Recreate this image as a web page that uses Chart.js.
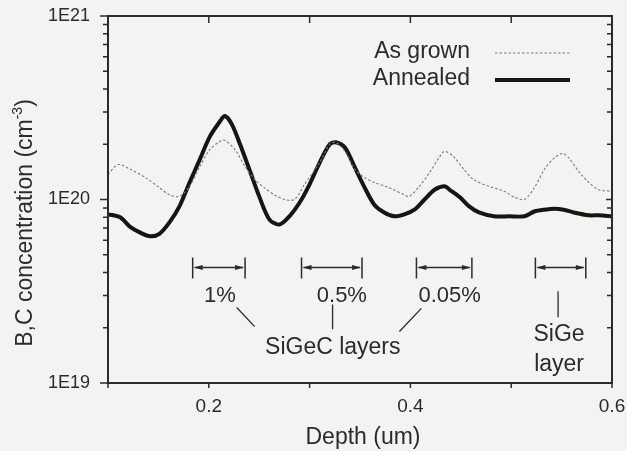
<!DOCTYPE html>
<html>
<head>
<meta charset="utf-8">
<title>B,C concentration vs depth</title>
<script src="https://cdn.jsdelivr.net/npm/chart.js@4.4.0/dist/chart.umd.min.js"></script>
<style>
  html, body { margin: 0; padding: 0; background: #f3f3f1; }
  canvas { display: block; }
</style>
</head>
<body>
<canvas id="chart" width="627" height="451"></canvas>
<script>
// ***** data *****
const grownDepth = [0.100, 0.110, 0.122, 0.137, 0.151, 0.161, 0.171, 0.181, 0.191, 0.201,
  0.211, 0.216, 0.226, 0.236, 0.246, 0.255, 0.265, 0.275, 0.285, 0.295,
  0.310, 0.320, 0.326, 0.335, 0.345, 0.354, 0.364, 0.379, 0.394, 0.399,
  0.409, 0.419, 0.429, 0.434, 0.443, 0.453, 0.463, 0.478, 0.493, 0.503,
  0.513, 0.523, 0.533, 0.543, 0.551, 0.557, 0.567, 0.577, 0.587, 0.600]
const grownConc = [1.37e20, 1.55e20, 1.46e20, 1.32e20, 1.16e20, 1.06e20, 1.04e20, 1.18e20, 1.51e20, 1.87e20,
  2.07e20, 2.10e20, 1.87e20, 1.51e20, 1.28e20, 1.16e20, 1.06e20, 1.00e20, 1.00e20, 1.21e20,
  1.59e20, 2.00e20, 2.05e20, 1.83e20, 1.46e20, 1.32e20, 1.24e20, 1.16e20, 1.06e20, 1.04e20,
  1.18e20, 1.40e20, 1.71e20, 1.83e20, 1.71e20, 1.46e20, 1.28e20, 1.18e20, 1.11e20, 1.03e20,
  1.00e20, 1.16e20, 1.46e20, 1.69e20, 1.78e20, 1.69e20, 1.42e20, 1.24e20, 1.13e20, 1.11e20]

const annealedDepth = [0.100, 0.112, 0.122, 0.132, 0.142, 0.151, 0.161, 0.171, 0.181, 0.191,
  0.201, 0.211, 0.216, 0.223, 0.231, 0.241, 0.250, 0.260, 0.270, 0.280,
  0.290, 0.300, 0.310, 0.320, 0.326, 0.335, 0.345, 0.354, 0.364, 0.374,
  0.384, 0.394, 0.404, 0.414, 0.424, 0.434, 0.439, 0.449, 0.458, 0.468,
  0.483, 0.498, 0.513, 0.523, 0.533, 0.543, 0.552, 0.562, 0.577, 0.587, 0.600]
const annealedConc = [8.3e19, 8.0e19, 7.1e19, 6.6e19, 6.3e19, 6.5e19, 7.5e19, 9.2e19, 1.24e20, 1.65e20,
  2.20e20, 2.66e20, 2.85e20, 2.56e20, 2.00e20, 1.42e20, 1.04e20, 7.8e19, 7.3e19, 8.1e19,
  9.6e19, 1.21e20, 1.59e20, 2.00e20, 2.05e20, 1.92e20, 1.49e20, 1.18e20, 9.4e19, 8.5e19,
  8.1e19, 8.3e19, 8.8e19, 1.00e20, 1.13e20, 1.18e20, 1.13e20, 1.03e20, 9.2e19, 8.5e19,
  8.1e19, 8.1e19, 8.1e19, 8.6e19, 8.8e19, 8.9e19, 8.8e19, 8.5e19, 8.2e19, 8.2e19, 8.1e19]

const seriesNames = ["As grown", "Annealed"]
const xTickValues = [0.1, 0.2, 0.3, 0.4, 0.5, 0.6]
const xTickLabels = ["", "0.2", "", "0.4", "", "0.6"]
const yTickValues = [1e19, 1e20, 1e21]
const yTickLabels = ["1E19", "1E20", "1E21"]
const yMinorSteps = [2, 3, 4, 5, 6, 7, 8, 9]

// layer markers (depth ranges) and their captions
const layerRanges = [[0.184, 0.236], [0.292, 0.352], [0.406, 0.461], [0.524, 0.574]]
const layerNames = ["1%", "0.5%", "0.05%", ""]

// ***** look *****
const FONT = "'Liberation Sans', Arial, Helvetica, sans-serif"
const INK = "#2b2b2b"
const BG = "#f3f3f1"

// where the notes go, in data units
const notes = {
  bracketY: 4.26e19,
  captionY: 3.0e19,
  captionX: [0.211, 0.332, 0.439],
  groupLabel: { text: "SiGeC layers", x: 0.323, y: 1.56e19 },
  sigeLabel: { lines: ["SiGe", "layer"], x: 0.5475, y: [1.84e19, 1.26e19] },
  leaders: [
    [0.2277, 2.58e19, 0.2455, 2.03e19],
    [0.3228, 2.68e19, 0.3228, 1.96e19],
    [0.4109, 2.55e19, 0.3891, 1.91e19],
    [0.5465, 3.16e19, 0.5465, 2.28e19]
  ]
}

const toPoints = (xs, ys) => xs.map((v, i) => ({ x: v, y: ys[i] }))

const decor = {
  id: "decor",
  beforeDraw(chart) {
    const ctx = chart.ctx
    ctx.save()
    ctx.fillStyle = BG
    ctx.fillRect(0, 0, chart.width, chart.height)
    ctx.restore()
  },
  afterDraw(chart) {
    const { ctx, chartArea: a, scales } = chart
    const x = scales.x, y = scales.y
    ctx.save()
    ctx.strokeStyle = INK
    ctx.fillStyle = INK

    // frame
    ctx.lineWidth = 2
    ctx.strokeRect(a.left, a.top, a.right - a.left, a.bottom - a.top)

    // tick marks
    ctx.lineWidth = 1.5
    ctx.beginPath()
    xTickValues.forEach(v => {
      const px = x.getPixelForValue(v)
      ctx.moveTo(px, a.bottom); ctx.lineTo(px, a.bottom + 5)
      ctx.moveTo(px, a.top); ctx.lineTo(px, a.top + 7)
    })
    yTickValues.forEach(v => {
      const py = y.getPixelForValue(v)
      ctx.moveTo(a.left - 8, py); ctx.lineTo(a.left, py)
      ctx.moveTo(a.right - 6, py); ctx.lineTo(a.right, py)
    })
    yTickValues.slice(0, -1).forEach(dec => {
      yMinorSteps.forEach(m => {
        const py = y.getPixelForValue(dec * m)
        ctx.moveTo(a.left - 5, py); ctx.lineTo(a.left + 1, py)
        ctx.moveTo(a.right - 5, py); ctx.lineTo(a.right, py)
      })
    })
    ctx.stroke()

    // y title with superscript
    ctx.save()
    ctx.translate(32, 223)
    ctx.rotate(-Math.PI / 2)
    ctx.textBaseline = "alphabetic"
    ctx.textAlign = "left"
    const main = "B,C concentration (cm"
    ctx.font = "23px " + FONT
    const w1 = ctx.measureText(main).width
    const w3 = ctx.measureText(")").width
    ctx.font = "14px " + FONT
    const w2 = ctx.measureText("-3").width
    let sx = -(w1 + w2 + w3) / 2
    ctx.font = "23px " + FONT
    ctx.fillText(main, sx, 0)
    ctx.font = "14px " + FONT
    ctx.fillText("-3", sx + w1, -10)
    ctx.font = "23px " + FONT
    ctx.fillText(")", sx + w1 + w2, 0)
    ctx.restore()

    // x title
    ctx.font = "23px " + FONT
    ctx.textAlign = "center"
    ctx.textBaseline = "middle"
    ctx.fillText("Depth (um)", (a.left + a.right) / 2 + 3, 438)

    // legend: text left, sample line right
    const ds = chart.data.datasets
    ctx.textAlign = "right"
    ctx.font = "23px " + FONT
    ds.forEach((d, i) => {
      const ly = 52 + i * 27
      ctx.fillStyle = INK
      ctx.fillText(d.label, 470, ly)
      ctx.save()
      ctx.strokeStyle = d.borderColor
      ctx.lineWidth = d.borderWidth
      ctx.setLineDash(d.borderDash || [])
      ctx.beginPath()
      ctx.moveTo(495, ly + 1); ctx.lineTo(570, ly + 1)
      ctx.stroke()
      ctx.restore()
    })

    // layer brackets
    ctx.lineWidth = 1.5
    const by = y.getPixelForValue(notes.bracketY)
    layerRanges.forEach(r => {
      const p0 = x.getPixelForValue(r[0]), p1 = x.getPixelForValue(r[1])
      ctx.beginPath()
      ctx.moveTo(p0, by - 10); ctx.lineTo(p0, by + 11)
      ctx.moveTo(p1, by - 10); ctx.lineTo(p1, by + 11)
      ctx.moveTo(p0 + 2, by); ctx.lineTo(p1 - 2, by)
      ctx.stroke()
      ctx.beginPath()
      ctx.moveTo(p0 + 1, by); ctx.lineTo(p0 + 10, by - 2.5); ctx.lineTo(p0 + 10, by + 2.5); ctx.closePath()
      ctx.moveTo(p1 - 1, by); ctx.lineTo(p1 - 10, by - 2.5); ctx.lineTo(p1 - 10, by + 2.5); ctx.closePath()
      ctx.fill()
    })

    // captions
    ctx.textAlign = "center"
    ctx.textBaseline = "middle"
    ctx.font = "22px " + FONT
    const cy = y.getPixelForValue(notes.captionY)
    layerNames.forEach((t, i) => {
      if (t) ctx.fillText(t, x.getPixelForValue(notes.captionX[i]), cy)
    })
    ctx.font = "23px " + FONT
    const g = notes.groupLabel
    ctx.fillText(g.text, x.getPixelForValue(g.x), y.getPixelForValue(g.y))
    const s = notes.sigeLabel
    s.lines.forEach((t, i) => ctx.fillText(t, x.getPixelForValue(s.x), y.getPixelForValue(s.y[i])))

    // leader lines
    ctx.lineWidth = 1.3
    ctx.beginPath()
    notes.leaders.forEach(l => {
      ctx.moveTo(x.getPixelForValue(l[0]), y.getPixelForValue(l[1]))
      ctx.lineTo(x.getPixelForValue(l[2]), y.getPixelForValue(l[3]))
    })
    ctx.stroke()
    ctx.restore()
  }
}

const ctx = document.getElementById("chart").getContext("2d")
const chart = new Chart(ctx, {
  type: "line",
  data: {
    datasets: [
      {
        label: seriesNames[0],
        data: toPoints(grownDepth, grownConc),
        borderColor: "#7a7a7a",
        borderWidth: 1.1,
        borderDash: [2.5, 2],
        pointRadius: 0,
        tension: 0.3
      },
      {
        label: seriesNames[1],
        data: toPoints(annealedDepth, annealedConc),
        borderColor: "#151515",
        borderWidth: 4,
        pointRadius: 0,
        tension: 0.3
      }
    ]
  },
  options: {
    responsive: false,
    animation: false,
    layout: { padding: { top: 16, right: 15, left: 0, bottom: 0 } },
    plugins: { legend: { display: false }, tooltip: { enabled: false } },
    scales: {
      x: {
        type: "linear",
        min: 0.1,
        max: 0.6,
        grid: { display: false, drawTicks: false },
        border: { display: false },
        afterBuildTicks: s => { s.ticks = xTickValues.map(v => ({ value: v })) },
        afterFit: s => {
          s.height = 68
          s.paddingLeft = 0
          s.paddingRight = 0
        },
        ticks: {
          padding: 12,
          color: INK,
          font: { family: FONT, size: 19 },
          maxRotation: 0,
          autoSkip: false,
          callback: v => xTickLabels[xTickValues.findIndex(t => Math.abs(t - v) < 1e-9)] || ""
        }
      },
      y: {
        type: "logarithmic",
        min: 1e19,
        max: 1e21,
        grid: { display: false, drawTicks: false },
        border: { display: false },
        afterBuildTicks: s => { s.ticks = yTickValues.map(v => ({ value: v })) },
        afterFit: s => {
          s.width = 108
          s.paddingTop = 0
          s.paddingBottom = 0
        },
        ticks: {
          padding: 18,
          color: INK,
          font: { family: FONT, size: 18 },
          autoSkip: false,
          callback: v => yTickLabels[yTickValues.indexOf(v)] || ""
        }
      }
    }
  },
  plugins: [decor]
})
</script>
</body>
</html>
